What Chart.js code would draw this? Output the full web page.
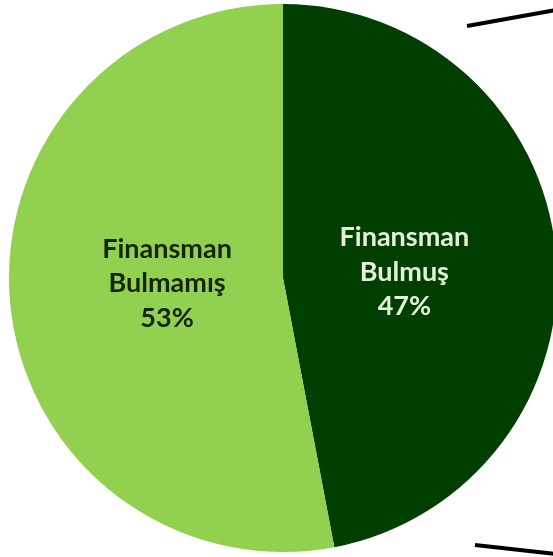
<!DOCTYPE html>
<html>
<head>
<meta charset="utf-8">
<script src="https://cdn.jsdelivr.net/npm/chart.js@4/dist/chart.umd.min.js"></script>
<style>
  html, body { margin: 0; padding: 0; background: #fff; overflow: hidden; }
  #wrap { width: 553px; height: 557px; overflow: hidden; position: relative; }
  #box { width: 566px; height: 557px; position: absolute; left: 0; top: 0; }
</style>
</head>
<body>
<div id="wrap"><div id="box"><canvas id="pie"></canvas></div></div>
<script>
const categories = ['Finansman\nBulmuş', 'Finansman\nBulmamış'];
const shares = [47, 53];
const sliceColors = ['#003f00', '#92d050'];
const textColors = ['#e4f2dc', '#16240c'];
// how far out from the centre each label sits, as a share of the radius
const labelRadius = [0.445, 0.425];

// callout connector stubs along the right edge
const connectors = [
  [[467, 26], [556, 10]],
  [[475, 545], [556, 554]]
];

const sliceLabels = {
  id: 'sliceLabels',
  afterDatasetsDraw(chart) {
    const ctx = chart.ctx;
    const meta = chart.getDatasetMeta(0);
    ctx.save();
    ctx.font = 'bold 27px Lato, "Open Sans", sans-serif';
    ctx.textAlign = 'center';
    ctx.textBaseline = 'middle';
    meta.data.forEach((arc, i) => {
      const mid = (arc.startAngle + arc.endAngle) / 2;
      const r = arc.outerRadius * labelRadius[i];
      const x = arc.x + Math.cos(mid) * r;
      const y = arc.y + Math.sin(mid) * r * 0.5;
      const lines = categories[i].split('\n').concat(shares[i] + '%');
      ctx.fillStyle = textColors[i];
      lines.forEach((t, k) => {
        ctx.fillText(t, x, y + (k - (lines.length - 1) / 2) * 34.5);
      });
    });
    ctx.restore();
  }
};

const connectorLines = {
  id: 'connectorLines',
  afterDraw(chart) {
    const ctx = chart.ctx;
    ctx.save();
    ctx.strokeStyle = '#000';
    ctx.lineWidth = 4;
    connectors.forEach(seg => {
      ctx.beginPath();
      ctx.moveTo(seg[0][0], seg[0][1]);
      ctx.lineTo(seg[1][0], seg[1][1]);
      ctx.stroke();
    });
    ctx.restore();
  }
};

new Chart(document.getElementById('pie'), {
  type: 'pie',
  data: {
    labels: categories,
    datasets: [{
      data: shares,
      backgroundColor: sliceColors,
      borderWidth: 0
    }]
  },
  options: {
    responsive: true,
    maintainAspectRatio: false,
    animation: false,
    layout: { padding: { top: 4, bottom: 5, left: 9, right: 9 } },
    plugins: {
      legend: { display: false },
      tooltip: { enabled: false }
    }
  },
  plugins: [sliceLabels, connectorLines]
});
</script>
</body>
</html>
